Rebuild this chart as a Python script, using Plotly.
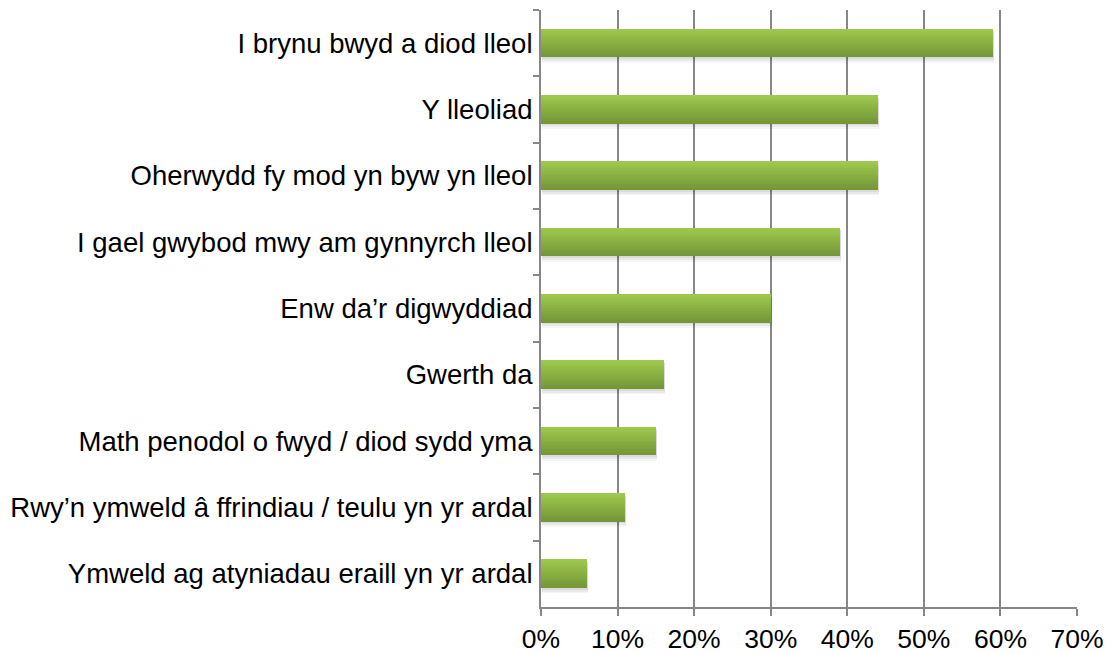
import plotly.graph_objects as go

# Reasons for attending, share of respondents (%)
categories = [
    "I brynu bwyd a diod lleol",
    "Y lleoliad",
    "Oherwydd fy mod yn byw yn lleol",
    "I gael gwybod mwy am gynnyrch lleol",
    "Enw da\u2019r digwyddiad",
    "Gwerth da",
    "Math penodol o fwyd / diod sydd yma",
    "Rwy\u2019n ymweld \u00e2 ffrindiau / teulu yn yr ardal",
    "Ymweld ag atyniadau eraill yn yr ardal",
]
values = [59, 44, 44, 39, 30, 16, 15, 11, 6]
tick_values = [0, 10, 20, 30, 40, 50, 60, 70]
tick_labels = ["0%", "10%", "20%", "30%", "40%", "50%", "60%", "70%"]

BAR_W = 0.42
N_SLICES = 16
TOP_RGB = (158, 201, 76)
BOT_RGB = (117, 151, 57)

fig = go.Figure()

# soft drop shadow under each bar
for dy, op, extra in [(0.06, 0.035, 0.05), (0.045, 0.05, 0.025), (0.03, 0.06, 0.0)]:
    fig.add_trace(go.Bar(
        y=categories, x=values, orientation="h",
        base=0.15, width=BAR_W + extra, offset=-BAR_W / 2 + dy - extra / 2,
        marker=dict(color=f"rgba(0,0,0,{op})", line=dict(width=0)),
        hoverinfo="skip", showlegend=False,
    ))

# vertical gradient built from thin horizontal strips of each bar
for i in range(N_SLICES):
    t = i / (N_SLICES - 1)
    r = round(TOP_RGB[0] + (BOT_RGB[0] - TOP_RGB[0]) * t)
    g = round(TOP_RGB[1] + (BOT_RGB[1] - TOP_RGB[1]) * t)
    b = round(TOP_RGB[2] + (BOT_RGB[2] - TOP_RGB[2]) * t)
    sw = BAR_W / N_SLICES
    fig.add_trace(go.Bar(
        y=categories, x=values, orientation="h",
        width=sw * 1.08, offset=-BAR_W / 2 + i * sw,
        marker=dict(color=f"rgb({r},{g},{b})", line=dict(width=0)),
        hoverinfo="skip", showlegend=False,
    ))

axis_gray = "#878787"
fig.update_layout(
    width=1107, height=654,
    margin=dict(l=541, r=30, t=10, b=47, autoexpand=False),
    paper_bgcolor="white", plot_bgcolor="white",
    barmode="overlay", bargap=0,
    font=dict(family="Liberation Sans, Arial, sans-serif", size=27.5, color="black"),
    xaxis=dict(
        range=[0, 70], tickmode="array", tickvals=tick_values, ticktext=tick_labels,
        tickfont=dict(size=26.5),
        showgrid=True, gridcolor=axis_gray, gridwidth=2,
        showline=True, linecolor=axis_gray, linewidth=2,
        ticks="outside", ticklen=7, tickcolor=axis_gray, tickwidth=2,
        ticklabelstandoff=0, automargin=False,
        zeroline=False, fixedrange=True,
    ),
    yaxis=dict(
        categoryorder="array", categoryarray=categories,
        autorange="reversed", automargin=False,
        showgrid=False, zeroline=False,
        showline=True, linecolor=axis_gray, linewidth=2,
        ticks="outside", tickson="boundaries", ticklen=6,
        tickcolor=axis_gray, tickwidth=2,
        ticklabelstandoff=1,
    ),
)

fig.write_html("out.html")
